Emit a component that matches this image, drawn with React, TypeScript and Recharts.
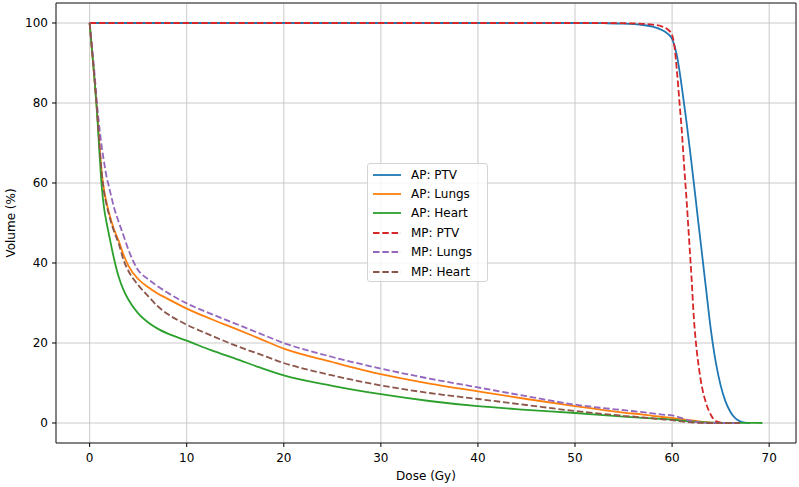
import React from 'react';
import { LineChart, Line, XAxis, YAxis, CartesianGrid, Legend, ReferenceArea } from 'recharts';

// dose grid for the organs at risk (Gy)
const organDose = [
  0, 0.25, 0.5, 0.75, 1, 1.25, 1.5, 1.75, 2, 2.5, 3, 3.5, 4, 5, 6, 7, 8, 10, 12.5, 15,
  17.5, 20, 25, 30, 35, 40, 45, 50, 55, 57, 58, 59, 60, 60.5, 61, 61.5, 62, 62.5, 63, 63.5,
  64, 64.5, 65, 65.5, 66, 66.5, 67, 67.5, 68, 69.3,
];

const apLungs = [
  100, 93, 86, 78.5, 70, 62.5, 58, 55, 52.5, 48.5, 45.5, 42, 39.3, 36, 34, 32.4, 31.1, 28.6, 26.0, 23.6,
  21.1, 18.6, 15.25, 12.2, 9.85, 7.9, 6.0, 4.2, 2.6, 2.1, 1.8, 1.5, 1.25, 1.1, 0.95, 0.8, 0.65, 0.5, 0.35, 0.2,
  0.1, 0.03, 0, 0, 0, 0, null, null, null, null,
];

const apHeart = [
  100, 93, 86, 78, 68, 59, 53.5, 50, 47, 41.2, 36.5, 33.2, 30.8, 27.4, 25.2, 23.6, 22.4, 20.6, 18.2, 16.1,
  13.9, 11.9, 9.3, 7.2, 5.5, 4.2, 3.3, 2.5, 1.6, 1.3, 1.15, 1.0, 0.85, 0.75, 0.6, 0.5, 0.4, 0.3, 0.2, 0.15,
  0.1, 0.07, 0.05, 0.04, 0.03, 0.02, 0.02, 0.01, 0.01, 0,
];

const mpLungs = [
  100, 94, 87.5, 80, 74, 69, 65, 61.5, 59, 54, 50.2, 46.8, 43.3, 38.2, 36, 34.2, 32.6, 29.9, 27.3, 24.85,
  22.4, 20.0, 16.5, 13.6, 11.1, 8.9, 6.7, 4.6, 3.2, 2.7, 2.4, 2.1, 1.9, 1.6, 1.2, 0.8, 0.5, 0.25, 0.1, 0.03,
  0, 0, 0, 0, 0, 0, 0, null, null, null,
];

const mpHeart = [
  100, 93, 86, 78.5, 70, 62.5, 57.5, 54.5, 52, 48, 44.8, 40.7, 38, 34.5, 31.8, 29.2, 27.3, 24.6, 21.9, 19.4,
  17.2, 15.0, 11.9, 9.4, 7.5, 6.0, 4.5, 3.0, 1.8, 1.4, 1.15, 0.9, 0.7, 0.55, 0.4, 0.25, 0.15, 0.06, 0.02, 0,
  0, 0, 0, 0, 0, 0, 0, null, null, null,
];

// dose grid for the target volumes (Gy)
const ptvDose = [
  0, 10, 20, 30, 40, 50, 53, 55, 57, 58, 59, 59.5, 60, 60.25, 60.5, 60.75, 61, 61.25, 61.5, 61.75,
  62, 62.25, 62.5, 62.75, 63, 63.5, 64, 64.5, 65, 65.5, 66, 66.5, 67, 67.5, 68,
];

const apPtv = [
  100, 100, 100, 100, 100, 100, 99.95, 99.85, 99.5, 99.1, 98.2, 97.4, 96, 94.3, 91.8, 88.2, 84, 79.5, 75, 70,
  65, 59.8, 54.5, 49.2, 44, 33.5, 23.2, 15.2, 9.4, 5.4, 2.8, 1.2, 0.4, 0.08, 0,
];

const mpPtv = [
  100, 100, 100, 100, 100, 100, 100, 99.95, 99.8, 99.6, 99.1, 98.5, 97, 94, 88, 80.5, 73, 64, 55.5, 46,
  36.5, 26, 19, 14, 10, 5, 2, 0.5, 0.1, 0, 0, null, null, null, null,
];

const xTicks = [0, 10, 20, 30, 40, 50, 60, 70];
const yTicks = [0, 20, 40, 60, 80, 100];

const organRows = organDose.map((dose, i) => ({
  dose,
  apLungs: apLungs[i],
  apHeart: apHeart[i],
  mpLungs: mpLungs[i],
  mpHeart: mpHeart[i],
}));

const ptvRows = ptvDose.map((dose, i) => ({ dose, apPtv: apPtv[i], mpPtv: mpPtv[i] }));

const series = [
  { key: 'apPtv', name: 'AP: PTV', color: '#1f77b4', dashed: false, rows: ptvRows },
  { key: 'apLungs', name: 'AP: Lungs', color: '#ff7f0e', dashed: false, rows: organRows },
  { key: 'apHeart', name: 'AP: Heart', color: '#2ca02c', dashed: false, rows: organRows },
  { key: 'mpPtv', name: 'MP: PTV', color: '#d62728', dashed: true, rows: ptvRows },
  { key: 'mpLungs', name: 'MP: Lungs', color: '#9467bd', dashed: true, rows: organRows },
  { key: 'mpHeart', name: 'MP: Heart', color: '#8c564b', dashed: true, rows: organRows },
];

const DASH = '6.5 2.8';
const X_DOMAIN = [-3.465, 72.765];
const Y_DOMAIN = [-5, 105];

function LegendBox() {
  return (
    <div
      style={{
        width: 121,
        height: 119,
        boxSizing: 'border-box',
        border: '1px solid #d4d4d4',
        borderRadius: 3,
        background: 'rgba(255,255,255,0.8)',
        padding: '1px 0 0 5px',
        fontSize: 12,
        color: '#000',
      }}
    >
      {series.map((s) => (
        <div key={s.key} style={{ height: 19.4, display: 'flex', alignItems: 'center' }}>
          <svg width={28} height={4} style={{ flex: 'none' }}>
            <line
              x1={0}
              y1={2}
              x2={28}
              y2={2}
              stroke={s.color}
              strokeWidth={1.8}
              strokeDasharray={s.dashed ? DASH : undefined}
            />
          </svg>
          <span style={{ marginLeft: 10, whiteSpace: 'nowrap' }}>{s.name}</span>
        </div>
      ))}
    </div>
  );
}

export default function App() {
  const tickStyle = { fill: '#000', fontSize: 12 };

  return (
    <div style={{ position: 'absolute', left: 0, top: 0, fontFamily: '"DejaVu Sans", sans-serif', background: '#fff' }}>
      <LineChart width={799} height={487} data={organRows} margin={{ top: 3, right: 3, left: 0, bottom: 0 }}>
        <CartesianGrid stroke="#c4c4c4" strokeWidth={0.9} />
        <XAxis
          dataKey="dose"
          type="number"
          domain={X_DOMAIN}
          ticks={xTicks}
          allowDataOverflow
          height={44}
          axisLine={false}
          tickLine={{ stroke: '#000' }}
          tickSize={4}
          tickMargin={6}
          tick={tickStyle}
          label={{ value: 'Dose (Gy)', position: 'insideBottom', offset: 7, fill: '#000', fontSize: 12 }}
        />
        <YAxis
          type="number"
          domain={Y_DOMAIN}
          ticks={yTicks}
          allowDataOverflow
          width={56}
          axisLine={false}
          tickLine={{ stroke: '#000' }}
          tickSize={4}
          tickMargin={4}
          tick={tickStyle}
          label={{
            value: 'Volume (%)',
            angle: -90,
            position: 'insideLeft',
            offset: 11,
            fill: '#000',
            fontSize: 12,
            style: { textAnchor: 'middle' },
          }}
        />
        {series.map((s) => (
          <Line
            key={s.key}
            data={s.rows}
            dataKey={s.key}
            name={s.name}
            type="monotone"
            stroke={s.color}
            strokeWidth={1.8}
            strokeDasharray={s.dashed ? DASH : undefined}
            dot={false}
            activeDot={false}
            isAnimationActive={false}
          />
        ))}
        <ReferenceArea
          x1={X_DOMAIN[0]}
          x2={X_DOMAIN[1]}
          y1={Y_DOMAIN[0]}
          y2={Y_DOMAIN[1]}
          fill="none"
          stroke="#222"
          strokeWidth={1}
          ifOverflow="visible"
        />
        <Legend
          layout="vertical"
          align="center"
          verticalAlign="middle"
          content={() => <LegendBox />}
          wrapperStyle={{ left: 367, top: 163, width: 121, height: 119 }}
        />
      </LineChart>
    </div>
  );
}
